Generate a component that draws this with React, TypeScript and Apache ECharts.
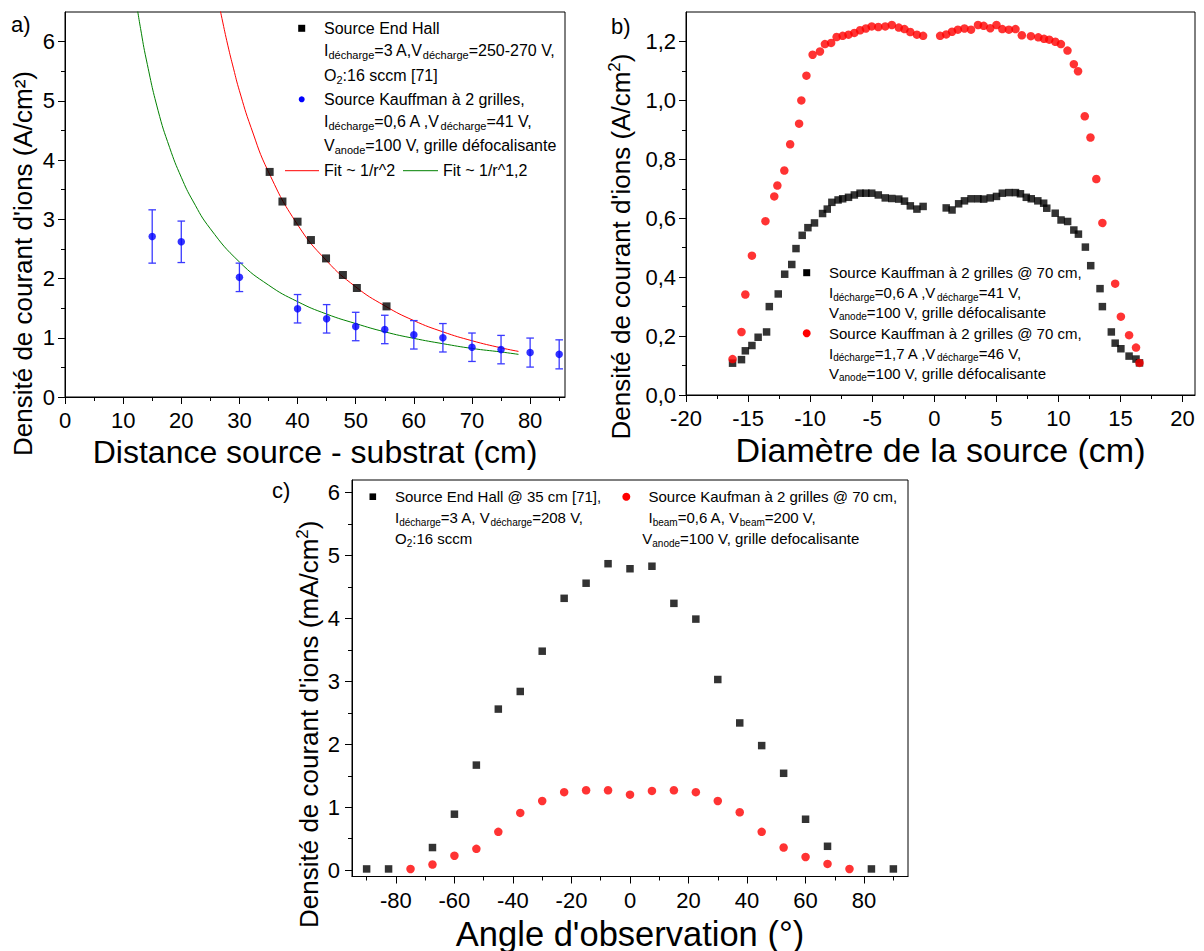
import React, { useEffect, useRef } from "react";
import * as echarts from "echarts";

const FONT = "'Liberation Sans', Arial, Helvetica, sans-serif";

// ---------------- Panel a ----------------
const endHallDist = [35.2, 37.4, 40.0, 42.3, 44.9, 47.8, 50.2, 55.3];
const endHallDens = [3.8, 3.3, 2.96, 2.65, 2.34, 2.06, 1.84, 1.53];
const kaufDist = [15, 20, 30, 40, 45, 50, 55, 60, 65, 70, 75, 80, 85];
const kaufDens = [2.71, 2.62, 2.02, 1.49, 1.32, 1.19, 1.14, 1.05, 1.0, 0.84, 0.8, 0.75, 0.72];
const kaufErr = [0.45, 0.35, 0.24, 0.24, 0.24, 0.24, 0.24, 0.24, 0.24, 0.24, 0.24, 0.245, 0.245];
const fit2X = [26.5, 27, 28, 29, 30, 32, 35, 40, 45, 50, 55, 60, 65, 70, 75, 78];
const fit2Y = [6.63, 6.39, 5.94, 5.54, 5.17, 4.55, 3.8, 2.91, 2.3, 1.86, 1.54, 1.29, 1.1, 0.95, 0.83, 0.77];
const fit12X = [12.3, 13, 14, 16, 18, 20, 22, 25, 30, 35, 40, 45, 50, 55, 60, 65, 70, 75, 78];
const fit12Y = [6.64, 6.22, 5.69, 4.84, 4.21, 3.71, 3.31, 2.84, 2.28, 1.89, 1.61, 1.4, 1.24, 1.1, 0.99, 0.9, 0.82, 0.76, 0.72];

// ---------------- Panel b ----------------
const blackBX = [-16.25, -15.53, -15.22, -14.69, -14.19, -13.51, -13.29, -12.57, -12.05, -11.48, -11.14, -10.64, -10.18, -9.65, -9.0, -8.62, -8.25, -7.75, -7.38, -6.91, -6.44, -5.98, -5.51, -5.04, -4.51, -3.95, -3.42, -2.86, -2.4, -1.93, -1.4, -0.9,
  0.96, 1.43, 1.96, 2.43, 2.96, 3.52, 3.98, 4.51, 5.01, 5.48, 6.01, 6.54, 6.94, 7.41, 7.81, 8.34, 8.81, 9.06, 9.74, 10.21, 10.74, 11.24, 11.61, 12.17, 12.6, 13.35, 13.54, 14.26, 14.57, 15.03, 15.69, 16.25, 16.53];
const blackBY = [0.108, 0.12, 0.15, 0.168, 0.196, 0.214, 0.3, 0.343, 0.41, 0.443, 0.497, 0.542, 0.568, 0.584, 0.616, 0.631, 0.654, 0.662, 0.666, 0.671, 0.679, 0.685, 0.685, 0.685, 0.679, 0.669, 0.667, 0.665, 0.658, 0.642, 0.631, 0.64,
  0.635, 0.628, 0.649, 0.659, 0.666, 0.666, 0.665, 0.669, 0.674, 0.685, 0.687, 0.687, 0.683, 0.671, 0.666, 0.659, 0.651, 0.634, 0.617, 0.594, 0.589, 0.56, 0.546, 0.502, 0.439, 0.361, 0.3, 0.214, 0.176, 0.157, 0.132, 0.122, 0.109];
const redBX = [-16.25, -15.53, -15.22, -14.69, -13.6, -12.89, -12.64, -12.08, -11.61, -10.89, -10.71, -10.3, -9.8, -9.21, -8.81, -8.31, -7.87, -7.38, -6.91, -6.44, -5.98, -5.51, -5.04, -4.51, -3.95, -3.42, -2.86, -2.4, -1.93, -1.4, -0.9,
  0.47, 0.96, 1.43, 1.9, 2.43, 2.96, 3.52, 3.98, 4.51, 5.01, 5.48, 6.01, 6.54, 7.05, 7.78, 8.38, 8.84, 9.26, 9.75, 10.2, 10.73, 11.24, 11.58, 12.12, 12.58, 13.05, 13.54, 14.57, 15.03, 15.69, 16.25, 16.53];
const redBY = [0.122, 0.214, 0.341, 0.473, 0.59, 0.674, 0.711, 0.762, 0.851, 0.921, 1.0, 1.084, 1.155, 1.166, 1.191, 1.195, 1.215, 1.219, 1.223, 1.229, 1.238, 1.244, 1.251, 1.249, 1.251, 1.256, 1.247, 1.242, 1.232, 1.223, 1.219,
  1.219, 1.224, 1.233, 1.24, 1.244, 1.24, 1.256, 1.253, 1.245, 1.256, 1.242, 1.24, 1.242, 1.221, 1.218, 1.214, 1.209, 1.206, 1.199, 1.191, 1.169, 1.123, 1.099, 0.946, 0.874, 0.733, 0.584, 0.378, 0.266, 0.203, 0.161, 0.109];

// ---------------- Panel c ----------------
const blackCX = [-90, -82.5, -67.5, -60, -52.5, -45, -37.5, -30, -22.5, -15, -7.5, 0, 7.5, 15, 22.5, 30, 37.5, 45, 52.5, 60, 67.5, 82.5, 90];
const blackCY = [0.02, 0.02, 0.36, 0.89, 1.67, 2.56, 2.84, 3.48, 4.32, 4.56, 4.87, 4.79, 4.83, 4.24, 3.99, 3.03, 2.34, 1.98, 1.54, 0.81, 0.38, 0.02, 0.02];
const redCX = [-75, -67.5, -60, -52.5, -45, -37.5, -30, -22.5, -15, -7.5, 0, 7.5, 15, 22.5, 30, 37.5, 45, 52.5, 60, 67.5, 75];
const redCY = [0.02, 0.09, 0.23, 0.34, 0.61, 0.91, 1.1, 1.24, 1.27, 1.27, 1.2, 1.26, 1.27, 1.24, 1.1, 0.92, 0.61, 0.36, 0.21, 0.1, 0.02];

// ---------------- ticks ----------------
const ticksAX = [0, 10, 20, 30, 40, 50, 60, 70, 80];
const minorAX = [5, 15, 25, 35, 45, 55, 65, 75, 85];
const ticksAY = [0, 1, 2, 3, 4, 5, 6];
const minorAY = [0.5, 1.5, 2.5, 3.5, 4.5, 5.5];
const ticksBX = [-20, -15, -10, -5, 0, 5, 10, 15, 20];
const minorBX = [-17.5, -12.5, -7.5, -2.5, 2.5, 7.5, 12.5, 17.5];
const ticksBY = [0, 0.2, 0.4, 0.6, 0.8, 1.0, 1.2];
const minorBY = [0.1, 0.3, 0.5, 0.7, 0.9, 1.1];
const ticksCX = [-80, -60, -40, -20, 0, 20, 40, 60, 80];
const minorCX = [-90, -70, -50, -30, -10, 10, 30, 50, 70, 90];
const ticksCY = [0, 1, 2, 3, 4, 5, 6];
const minorCY = [0.5, 1.5, 2.5, 3.5, 4.5, 5.5];

// ---------------- legend texts ----------------
const legendA1 = ["Source End Hall", "I_{décharge}=3 A,V_{décharge}=250-270 V,", "O_{2}:16 sccm [71]"];
const legendA2 = ["Source Kauffman à 2 grilles,", "I_{décharge}=0,6 A ,V_{décharge}=41 V,", "V_{anode}=100 V, grille défocalisante"];
const legendB1 = ["Source Kauffman à 2 grilles @ 70 cm,", "I_{décharge}=0,6 A ,V_{décharge}=41 V,", "V_{anode}=100 V, grille défocalisante"];
const legendB2 = ["Source Kauffman à 2 grilles @ 70 cm,", "I_{décharge}=1,7 A ,V_{décharge}=46 V,", "V_{anode}=100 V, grille défocalisante"];
const legendC1 = ["Source End Hall @ 35 cm [71],", "I_{décharge}=3 A, V_{décharge}=208 V,", "O_{2}:16 sccm"];
const legendC2 = ["Source Kaufman à 2 grilles @ 70 cm,", "I_{beam}=0,6 A, V_{beam}=200 V,", "V_{anode}=100 V, grille defocalisante"];

function toRich(s: string): string {
  const parts = s.split(/(_\{[^}]*\}|\^\{[^}]*\})/);
  return parts
    .filter((p) => p.length > 0)
    .map((p) =>
      p.startsWith("_{") ? `{s|${p.slice(2, -1)}}` : p.startsWith("^{") ? `{p|${p.slice(2, -1)}}` : `{n|${p}}`
    )
    .join("");
}

function richStyles(size: number, sub: number) {
  return {
    n: { fontSize: size, fontFamily: FONT, lineHeight: size + 4, fill: "#000" },
    s: { fontSize: sub, fontFamily: FONT, lineHeight: 10, verticalAlign: "bottom", fill: "#000" },
    p: { fontSize: sub, fontFamily: FONT, lineHeight: 10, verticalAlign: "top", fill: "#000" },
  };
}

function textEl(x: number, y: number, s: string, size: number, sub: number) {
  return {
    type: "text",
    x,
    y,
    silent: true,
    style: {
      text: toRich(s),
      rich: richStyles(size, sub),
      fill: "#000",
      font: `${size}px ${FONT}`,
      align: "left",
      textAlign: "left",
      verticalAlign: "middle",
      textVerticalAlign: "middle",
    },
  };
}

const tickLine = { color: "#000", width: 1 };

function majorAxis(gi: number, min: number, max: number, pos: string, ticks: number[], margin: number, fmt?: any) {
  const ax: any = {
    type: "value",
    gridIndex: gi,
    min,
    max,
    position: pos,
    nameMoveOverlap: false,
    axisLine: { show: true, onZero: false, lineStyle: { color: "#000", width: 1 } },
    axisTick: { show: true, inside: false, length: 7, customValues: ticks, lineStyle: tickLine },
    axisLabel: { show: true, customValues: ticks, margin, fontSize: 22, fontFamily: FONT, color: "#000", lineHeight: 22 },
    splitLine: { show: false },
  };
  if (fmt) ax.axisLabel.formatter = fmt;
  return ax;
}

function minorAxis(gi: number, min: number, max: number, pos: string, ticks: number[]) {
  return {
    type: "value",
    gridIndex: gi,
    min,
    max,
    position: pos,
    axisLine: { show: false, onZero: false },
    axisTick: { show: true, inside: false, length: 4, customValues: ticks, lineStyle: tickLine },
    axisLabel: { show: false },
    splitLine: { show: false },
  };
}

const commaFmt = (v: number) => v.toFixed(1).replace(".", ",");

function yNameStyle(shiftDown: number) {
  return {
    fontSize: 26,
    fontFamily: FONT,
    color: "#000",
    padding: [0, shiftDown * 2, 0, 0],
    rich: {
      n: { fontSize: 26, fontFamily: FONT, color: "#000", lineHeight: 30 },
      p: { fontSize: 17, fontFamily: FONT, color: "#000", lineHeight: 14, verticalAlign: "top" },
    },
  };
}

function buildOption() {
  const xA = majorAxis(0, 0, 86, "bottom", ticksAX, 12);
  Object.assign(xA, {
    name: "Distance source - substrat (cm)",
    nameLocation: "middle",
    nameGap: 39,
    nameTextStyle: { fontSize: 32, fontFamily: FONT, color: "#000", lineHeight: 32 },
  });
  const yA = majorAxis(0, 0, 6.5, "left", ticksAY, 10);
  Object.assign(yA, {
    name: "{n|Densité de courant d'ions (A/cm²)}",
    nameLocation: "middle",
    nameGap: 27,
    nameTextStyle: yNameStyle(59),
  });

  const xB = majorAxis(1, -20, 21, "bottom", ticksBX, 12);
  Object.assign(xB, {
    name: "Diamètre de la source (cm)",
    nameLocation: "middle",
    nameGap: 38,
    nameTextStyle: { fontSize: 34, fontFamily: FONT, color: "#000", lineHeight: 34 },
  });
  const yB = majorAxis(1, 0, 1.3, "left", ticksBY, 10, commaFmt);
  Object.assign(yB, {
    name: "{n|Densité de courant d'ions (A/cm}{p|2}{n|)}",
    nameLocation: "middle",
    nameGap: 50,
    nameTextStyle: yNameStyle(43),
  });

  const xC = majorAxis(2, -95, 95, "bottom", ticksCX, 13);
  Object.assign(xC, {
    name: "Angle d'observation (°)",
    nameLocation: "middle",
    nameGap: 40,
    nameTextStyle: { fontSize: 34.5, fontFamily: FONT, color: "#000", lineHeight: 34 },
  });
  const yC = majorAxis(2, -0.1, 6.2, "left", ticksCY, 12);
  Object.assign(yC, {
    name: "{n|Densité de courant d'ions (mA/cm}{p|2}{n|)}",
    nameLocation: "middle",
    nameGap: 28,
    nameTextStyle: yNameStyle(46),
  });

  const gridBase = { show: true, borderColor: "#000", borderWidth: 1, backgroundColor: "transparent", containLabel: false, outerBoundsMode: "none" };

  const graphic: any[] = [];
  // panel labels
  graphic.push(textEl(11, 24, "a)", 22, 14));
  graphic.push(textEl(611, 26, "b)", 22, 14));
  graphic.push(textEl(272, 490, "c)", 22, 14));

  // legend a
  graphic.push({ type: "rect", silent: true, shape: { x: 298.2, y: 24.8, width: 7, height: 7 }, style: { fill: "#000" } });
  [28.3, 50, 75].forEach((y, i) => graphic.push(textEl(324, y, legendA1[i], 16, 11)));
  graphic.push({ type: "circle", silent: true, shape: { cx: 301.7, cy: 99.3, r: 3 }, style: { fill: "#0000ff" } });
  [99.3, 121.7, 145.7].forEach((y, i) => graphic.push(textEl(324, y, legendA2[i], 16, 11)));
  graphic.push({ type: "line", silent: true, shape: { x1: 285, y1: 170.7, x2: 319, y2: 170.7 }, style: { stroke: "#ff0000", lineWidth: 1 } });
  graphic.push(textEl(324, 170.7, "Fit ~ 1/r^2", 16, 11));
  graphic.push({ type: "line", silent: true, shape: { x1: 403, y1: 170.7, x2: 438, y2: 170.7 }, style: { stroke: "#008000", lineWidth: 1 } });
  graphic.push(textEl(443, 170.7, "Fit ~ 1/r^1,2", 16, 11));

  // legend b
  graphic.push({ type: "rect", silent: true, shape: { x: 803.2, y: 269.2, width: 7, height: 7 }, style: { fill: "#000" } });
  [272.7, 292.5, 312].forEach((y, i) => graphic.push(textEl(829, y, legendB1[i], 15, 10)));
  graphic.push({ type: "circle", silent: true, shape: { cx: 806.7, cy: 333.3, r: 4 }, style: { fill: "#ff0000" } });
  [333.3, 353.3, 373.3].forEach((y, i) => graphic.push(textEl(829, y, legendB2[i], 15, 10)));

  // legend c
  graphic.push({ type: "rect", silent: true, shape: { x: 369.5, y: 493.4, width: 6.6, height: 6.6 }, style: { fill: "#000" } });
  [496.7, 517.5, 538.5].forEach((y, i) => graphic.push(textEl(395, y, legendC1[i], 15, 10)));
  graphic.push({ type: "circle", silent: true, shape: { cx: 626.3, cy: 496.7, r: 4 }, style: { fill: "#ff0000" } });
  [496.7, 517.5, 538.5].forEach((y, i) => graphic.push(textEl(i === 2 ? 642.3 : 648.5, y, legendC2[i], 15, 10)));

  return {
    animation: false,
    backgroundColor: "#ffffff",
    textStyle: { fontFamily: FONT },
    grid: [
      { ...gridBase, left: 65, top: 12, width: 500, height: 385 },
      { ...gridBase, left: 686, top: 12, width: 509, height: 383 },
      { ...gridBase, left: 352, top: 480, width: 556, height: 396.5 },
    ],
    xAxis: [
      xA,
      minorAxis(0, 0, 86, "bottom", minorAX),
      xB,
      minorAxis(1, -20, 21, "bottom", minorBX),
      xC,
      minorAxis(2, -95, 95, "bottom", minorCX),
    ],
    yAxis: [
      yA,
      minorAxis(0, 0, 6.5, "left", minorAY),
      yB,
      minorAxis(1, 0, 1.3, "left", minorBY),
      yC,
      minorAxis(2, -0.1, 6.2, "left", minorCY),
    ],
    graphic,
    series: [
      {
        type: "line",
        name: "Fit ~ 1/r^2",
        xAxisIndex: 0,
        yAxisIndex: 0,
        data: fit2X.map((x, i) => [x, fit2Y[i]]),
        smooth: true,
        showSymbol: false,
        symbol: "none",
        clip: true,
        lineStyle: { color: "#ff0000", width: 1 },
        z: 2,
      },
      {
        type: "line",
        name: "Fit ~ 1/r^1,2",
        xAxisIndex: 0,
        yAxisIndex: 0,
        data: fit12X.map((x, i) => [x, fit12Y[i]]),
        smooth: true,
        showSymbol: false,
        symbol: "none",
        clip: true,
        lineStyle: { color: "#008000", width: 1 },
        z: 2,
      },
      {
        type: "custom",
        name: "Erreur Kauffman",
        xAxisIndex: 0,
        yAxisIndex: 0,
        data: kaufDist.map((x, i) => [x, kaufDens[i], kaufErr[i]]),
        renderItem: (params: any, api: any) => {
          const x = api.value(0);
          const y = api.value(1);
          const e = api.value(2);
          const top = api.coord([x, y + e]);
          const bot = api.coord([x, y - e]);
          const w = 3.8;
          const st = { stroke: "#3a3aff", lineWidth: 1.3 };
          return {
            type: "group",
            children: [
              { type: "line", shape: { x1: top[0], y1: top[1], x2: bot[0], y2: bot[1] }, style: st },
              { type: "line", shape: { x1: top[0] - w, y1: top[1], x2: top[0] + w, y2: top[1] }, style: st },
              { type: "line", shape: { x1: bot[0] - w, y1: bot[1], x2: bot[0] + w, y2: bot[1] }, style: st },
            ],
          };
        },
        z: 3,
      },
      {
        type: "scatter",
        name: "Source End Hall",
        xAxisIndex: 0,
        yAxisIndex: 0,
        data: endHallDist.map((x, i) => [x, endHallDens[i]]),
        symbol: "rect",
        symbolSize: 8,
        itemStyle: { color: "#000" },
        z: 4,
      },
      {
        type: "scatter",
        name: "Source Kauffman à 2 grilles",
        xAxisIndex: 0,
        yAxisIndex: 0,
        data: kaufDist.map((x, i) => [x, kaufDens[i]]),
        symbol: "circle",
        symbolSize: 7.5,
        itemStyle: { color: "#0000ff" },
        z: 4,
      },
      {
        type: "scatter",
        name: "Kauffman 0,6 A",
        xAxisIndex: 2,
        yAxisIndex: 2,
        data: blackBX.map((x, i) => [x, blackBY[i]]),
        symbol: "rect",
        symbolSize: 7.5,
        itemStyle: { color: "#000" },
        z: 3,
      },
      {
        type: "scatter",
        name: "Kauffman 1,7 A",
        xAxisIndex: 2,
        yAxisIndex: 2,
        data: redBX.map((x, i) => [x, redBY[i]]),
        symbol: "circle",
        symbolSize: 8.5,
        itemStyle: { color: "#ff0000" },
        z: 4,
      },
      {
        type: "scatter",
        name: "Source End Hall @ 35 cm",
        xAxisIndex: 4,
        yAxisIndex: 4,
        data: blackCX.map((x, i) => [x, blackCY[i]]),
        symbol: "rect",
        symbolSize: 7.5,
        itemStyle: { color: "#000" },
        z: 3,
      },
      {
        type: "scatter",
        name: "Source Kaufman @ 70 cm",
        xAxisIndex: 4,
        yAxisIndex: 4,
        data: redCX.map((x, i) => [x, redCY[i]]),
        symbol: "circle",
        symbolSize: 8.5,
        itemStyle: { color: "#ff0000" },
        z: 4,
      },
    ],
  };
}

export default function App() {
  const ref = useRef<HTMLDivElement>(null);
  useEffect(() => {
    if (!ref.current) return;
    const chart = echarts.init(ref.current, undefined, { renderer: "svg" });
    chart.setOption(buildOption() as any);
    return () => chart.dispose();
  }, []);
  return (
    <div
      ref={ref}
      style={{ position: "fixed", left: 0, top: 0, width: 1204, height: 951, background: "#fff" }}
    />
  );
}
